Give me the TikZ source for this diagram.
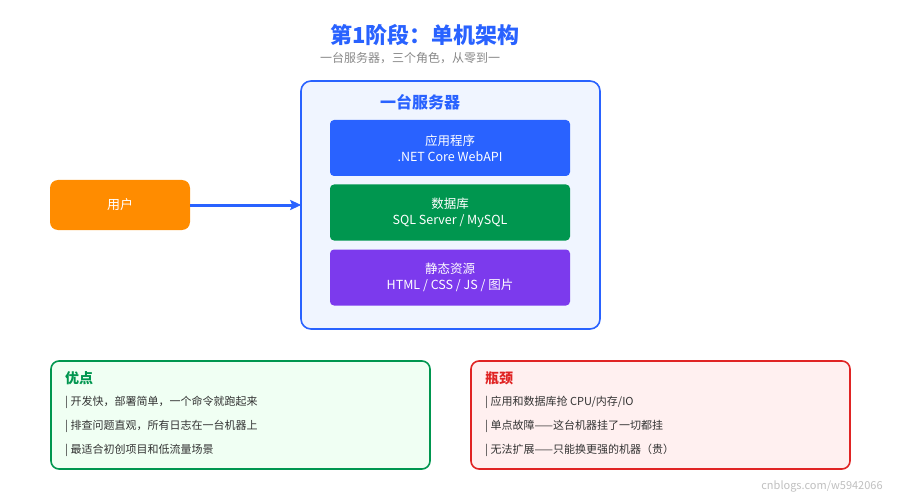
\documentclass[tikz,border=0pt]{standalone}
\usepackage{fontspec}
\setmainfont{Noto Sans CJK SC}
\usetikzlibrary{positioning,arrows.meta}

\definecolor{mainblue}{HTML}{2962FF}
\definecolor{servfill}{HTML}{F0F5FF}
\definecolor{dbgreen}{HTML}{00964F}
\definecolor{staticpurple}{HTML}{7C3AED}
\definecolor{userorange}{HTML}{FF8C00}
\definecolor{prosfill}{HTML}{F0FFF3}
\definecolor{consred}{HTML}{E02424}
\definecolor{consfill}{HTML}{FFF0F0}
\definecolor{itemgray}{HTML}{333333}
\definecolor{subgray}{HTML}{888888}

\begin{document}
\begin{tikzpicture}[x=1pt,y=-1pt]

  % Definitions
  \tikzstyle{layer} = [rectangle, rounded corners=4pt, minimum width=240pt, minimum height=56pt, text centered, align=center, text=white, font=\fontsize{12.5}{16}\selectfont]
  \tikzstyle{panel} = [rectangle, rounded corners=8pt, minimum width=379pt, minimum height=108pt, line width=1.6pt]
  \tikzstyle{paneltitle} = [anchor=west, inner sep=0pt, font=\bfseries\fontsize{14}{16}\selectfont]
  \tikzstyle{item} = [anchor=west, inner sep=0pt, text=itemgray, font=\fontsize{11}{13}\selectfont]
  \tikzstyle{arrow} = [line width=3pt, draw=mainblue, -{Stealth[length=11pt, width=10pt, inset=2pt]}, shorten >=-1pt]

  \useasboundingbox (0,0) rectangle (900,500);

  \node (title) at (425,35) {\bfseries\fontsize{22}{26}\selectfont\color{mainblue}第1阶段：单机架构};
  \node (subtitle) at (410,58) {\fontsize{12}{14}\selectfont\color{subgray}一台服务器，三个角色，从零到一};

  \node (server) [rectangle, rounded corners=10pt, minimum width=299pt, minimum height=248pt, draw=mainblue, fill=servfill, line width=1.6pt] at (450.5,205) {};
  \node (servtitle) at (420,102) {\bfseries\fontsize{16}{18}\selectfont\color{mainblue}一台服务器};

  \node (app) [layer, fill=mainblue] at (450,148) {应用程序\\.NET Core WebAPI};
  \node (db) [layer, fill=dbgreen] at (450,212.5) {数据库\\SQL Server / MySQL};
  \node (static) [layer, fill=staticpurple] at (450,277.5) {静态资源\\HTML / CSS / JS / 图片};

  \node (user) [rectangle, rounded corners=8pt, minimum width=140pt, minimum height=50pt, fill=userorange, text=white, font=\fontsize{13}{15}\selectfont] at (120,205) {用户};

  \draw [arrow] (user) -- (server);

  \node (pros) [panel, draw=dbgreen, fill=prosfill] at (240.5,415) {};
  \node (prostitle) [paneltitle, text=dbgreen] at (65,378) {优点};
  \node (pro1) [item] at (65,402) {| 开发快，部署简单，一个命令就跑起来};
  \node (pro2) [item] at (65,426) {| 排查问题直观，所有日志在一台机器上};
  \node (pro3) [item] at (65,450) {| 最适合初创项目和低流量场景};

  \node (cons) [panel, draw=consred, fill=consfill] at (660.5,415) {};
  \node (constitle) [paneltitle, text=consred] at (485,378) {瓶颈};
  \node (con1) [item] at (485,402) {| 应用和数据库抢 CPU/内存/IO};
  \node (con2) [item] at (485,426) {| 单点故障——这台机器挂了一切都挂};
  \node (con3) [item] at (485,450) {| 无法扩展——只能换更强的机器（贵）};

  \node (mark) at (822,486) {\fontsize{11}{13}\selectfont\color{black!25}cnblogs.com/w5942066};

\end{tikzpicture}
\end{document}
